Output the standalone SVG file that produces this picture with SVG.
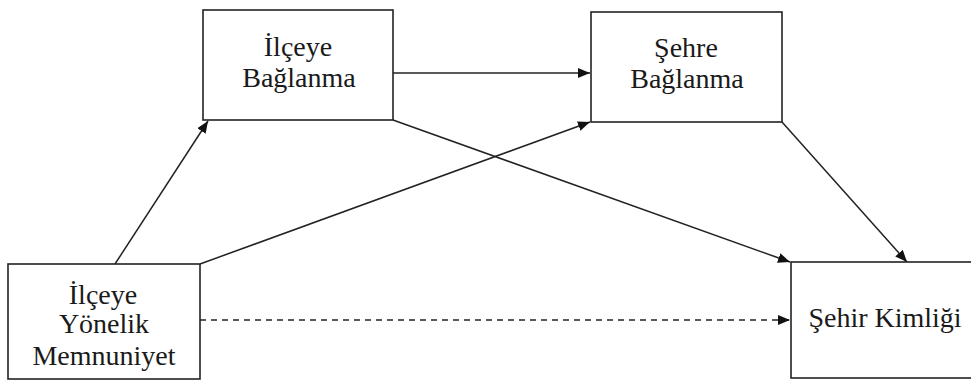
<svg xmlns="http://www.w3.org/2000/svg" width="971" height="380" viewBox="0 0 971 380">
<defs>
<style>
.box{fill:#fff;stroke:#222;stroke-width:1.6}
.t{font-family:'Liberation Serif','Times New Roman',serif;font-size:28px;fill:#1a1a1a;text-anchor:middle}
.c{stroke:#222;stroke-width:1.5;fill:none}
.d{stroke-dasharray:6,5}
</style>
<marker id="ah" viewBox="0 0 12 10" refX="12" refY="5" markerWidth="12" markerHeight="10" markerUnits="userSpaceOnUse" orient="auto">
<path d="M0,0 L12,5 L0,10 z" fill="#111"/>
</marker>
</defs>
<rect width="971" height="380" fill="#fff"/>
<g id="connectors">
<line class="c" x1="115" y1="264" x2="208" y2="121" marker-end="url(#ah)"/>
<line class="c" x1="393" y1="73" x2="590" y2="73" marker-end="url(#ah)"/>
<line class="c" x1="200" y1="264" x2="590" y2="122" marker-end="url(#ah)"/>
<line class="c" x1="393" y1="120" x2="790" y2="262" marker-end="url(#ah)"/>
<line class="c" x1="782" y1="122" x2="907" y2="262" marker-end="url(#ah)"/>
<line class="c d" x1="200" y1="320" x2="790" y2="320" marker-end="url(#ah)"/>
</g>
<g id="ilceye-baglanma">
<rect class="box" x="203" y="10" width="190" height="110"/>
<text class="t" x="298" y="56">İlçeye</text>
<text class="t" x="299" y="87">Bağlanma</text>
</g>
<g id="sehre-baglanma">
<rect class="box" x="591" y="12" width="191" height="110"/>
<text class="t" x="686" y="57">Şehre</text>
<text class="t" x="687" y="88">Bağlanma</text>
</g>
<g id="ilceye-yonelik-memnuniyet">
<rect class="box" x="8" y="264" width="192" height="115"/>
<text class="t" x="103" y="304">İlçeye</text>
<text class="t" x="104" y="333">Yönelik</text>
<text class="t" x="104" y="365">Memnuniyet</text>
</g>
<g id="sehir-kimligi">
<rect class="box" x="791" y="262" width="190" height="116"/>
<text class="t" x="885" y="327">Şehir Kimliği</text>
</g>
</svg>
